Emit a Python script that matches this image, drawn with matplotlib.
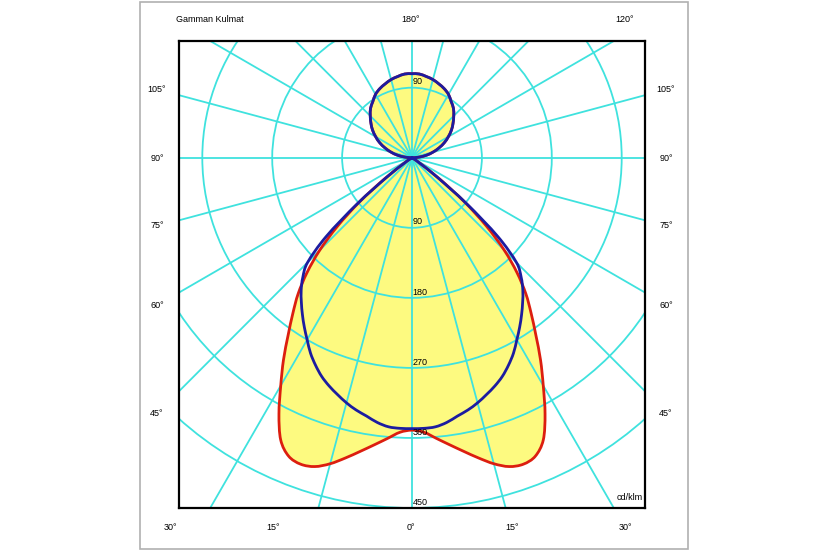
import numpy as np
import matplotlib
matplotlib.use("Agg")
from matplotlib import pyplot as plt
from matplotlib.patches import Rectangle, Circle, PathPatch
from matplotlib.path import Path

# =====================================================================
# DONNÉES (cd/klm en fonction de l'angle gamma, 0° = vers le bas)
# =====================================================================

gamma = [0, 2.5, 5, 7.5, 10, 12.5, 15, 17.5, 20, 22.5, 25, 27.5, 30,
         32.5, 35, 37.5, 40, 42.5, 45, 47.5, 50, 52.5, 55, 57.5, 60,
         65, 70, 75, 80, 85,
         90, 95, 100, 105, 110, 115, 120, 125, 130, 135, 140, 145,
         150, 155, 160, 165, 170, 175, 180]

# Plan C0-C180 (rouge)
c0_c180 = [350, 353, 362, 372, 383, 395, 407, 416, 419, 415, 400, 371, 338,
           308, 278, 252, 228, 200, 168, 130, 88, 45, 15, 4, 0,
           0, 0, 0, 0, 0,
           0, 9, 19, 28, 37, 46, 54, 62, 69, 76, 83, 88,
           94, 98, 101, 104, 106, 108, 108]

# Plan C90-C270 (bleu)
c90_c270 = [348, 348, 347, 343, 337, 332, 326, 319, 312, 304, 294, 283, 270,
            258, 246, 234, 222, 208, 190, 150, 92, 40, 12, 4, 0,
            0, 0, 0, 0, 0,
            0, 9, 19, 28, 37, 46, 54, 62, 69, 76, 83, 88,
            94, 98, 101, 104, 106, 108, 108]

cercles = [90, 180, 270, 360, 450]
angles_gauche = ["105°", "90°", "75°", "60°", "45°"]
angles_bas = ["30°", "15°", "0°", "15°", "30°"]

# =====================================================================
# FIGURE
# =====================================================================

W, H = 825, 550
CYAN = "#3fe2de"
FS = 6.5
plt.rcParams['font.family'] = ['Liberation Sans', 'DejaVu Sans']

fig = plt.figure(figsize=(W / 100, H / 100), dpi=100)
fig.patches.append(Rectangle((140 / W, 1 / H), 548 / W, 547 / H, transform=fig.transFigure,
                             fill=False, edgecolor="#b0b0b0", linewidth=1.2))

ax = fig.add_axes([179 / W, (H - 508) / H, 466 / W, 467 / H])
ax.set_xlim(-300, 300)
ax.set_ylim(-450, 150)
ax.set_xticks([])
ax.set_yticks([])
for s in ax.spines.values():
    s.set_linewidth(1.6)
    s.set_color("black")


def chemin(valeurs):
    """Courbe fermée lissée (Bézier) passant par les points mesurés."""
    g = np.radians(gamma)
    r = np.array(valeurs, dtype=float)
    x = r * np.sin(g)
    y = -r * np.cos(g)
    # moitié droite puis moitié gauche (symétrie), sans doublons
    pts = np.column_stack([np.concatenate([x, -x[-2:0:-1]]),
                           np.concatenate([y, y[-2:0:-1]])])
    n = len(pts)
    verts = [pts[0]]
    codes = [Path.MOVETO]
    for i in range(n):
        p0, p1 = pts[i - 1], pts[i]
        p2, p3 = pts[(i + 1) % n], pts[(i + 2) % n]
        verts += [p1 + (p2 - p0) / 6, p2 - (p3 - p1) / 6, p2]
        codes += [Path.CURVE4] * 3
    verts.append(pts[0])
    codes.append(Path.CLOSEPOLY)
    return Path(verts, codes)


path_rouge = chemin(c0_c180)
path_bleu = chemin(c90_c270)

ax.add_patch(PathPatch(path_rouge, facecolor="#fdfa80", edgecolor="none", zorder=1))

# grille polaire
for r in cercles + [540, 630, 720]:
    ax.add_patch(Circle((0, 0), r, fill=False, edgecolor=CYAN, linewidth=1.3, zorder=2))
for a in range(0, 360, 15):
    t = np.radians(a)
    ax.plot([0, 900 * np.sin(t)], [0, -900 * np.cos(t)], color=CYAN, linewidth=1.3, zorder=2)

ax.add_patch(PathPatch(path_rouge, facecolor="none", edgecolor="#dc1e0f", linewidth=2.0, zorder=3))
ax.add_patch(PathPatch(path_bleu, facecolor="none", edgecolor="#1c1ca0", linewidth=2.0, zorder=4))

# étiquettes des cercles
ax.text(1, 90 + 7.5, "90", fontsize=FS, ha='left', va='center', zorder=5)
for r in cercles:
    ax.text(1, -r + 7.5, str(r), fontsize=FS, ha='left', va='center', zorder=5)
ax.text(297, -437, "cd/klm", fontsize=FS, ha='right', va='center', zorder=5)


# textes autour du cadre (coordonnées pixel)
def txt(x, y, s, ha='center'):
    fig.text(x / W, 1 - y / H, s, fontsize=FS, ha=ha, va='center')


txt(176, 20, "Gamman Kulmat", ha='left')
txt(411, 20, "180°")
txt(625, 20, "120°")
for s, y in zip(angles_gauche, [90, 158, 226, 305, 413]):
    txt(157, y, s)
    txt(666, y, s)
for s, x in zip(angles_bas, [170, 273, 411, 512, 625]):
    txt(x, 528, s)

fig.savefig("out.png", dpi=100)
